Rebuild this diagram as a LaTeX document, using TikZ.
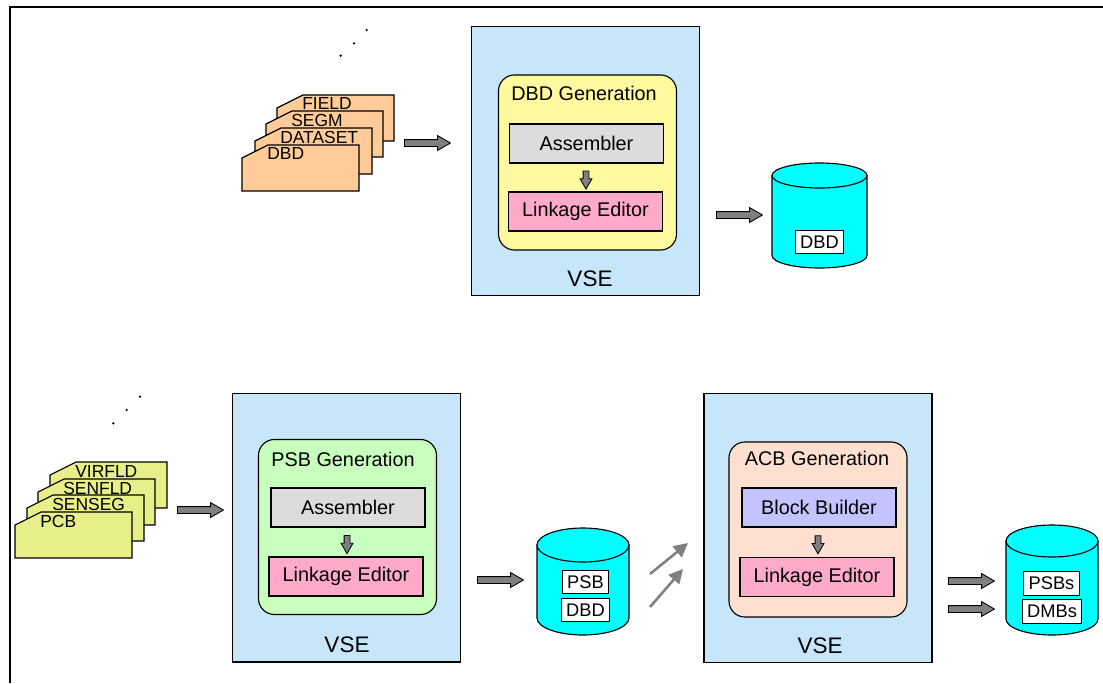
\documentclass[tikz,border=0pt]{standalone}
\usepackage{fontspec}
\setmainfont{Liberation Sans}
\usepackage{xcolor}
\usetikzlibrary{shapes.arrows, arrows.meta}

\definecolor{vseblue}{RGB}{200,230,250}
\definecolor{dbdyellow}{RGB}{255,250,160}
\definecolor{psbgreen}{RGB}{200,255,190}
\definecolor{acbpeach}{RGB}{255,224,208}
\definecolor{asmgray}{RGB}{220,220,220}
\definecolor{lnkpink}{RGB}{255,170,200}
\definecolor{bldlavender}{RGB}{195,195,255}
\definecolor{diskcyan}{RGB}{0,255,255}
\definecolor{cardorange}{RGB}{255,204,153}
\definecolor{cardyellow}{RGB}{232,238,136}
\definecolor{arrowgray}{RGB}{128,128,128}

\begin{document}
\begin{tikzpicture}[
    x=0.025cm, y=-0.025cm,
    vse box/.style = {draw, line width=0.8pt, fill=vseblue, minimum width=5.7cm, minimum height=6.72cm},
    vse label/.style = {font=\fontsize{16}{18}\selectfont},
    gen box/.style = {draw, line width=0.8pt, rounded corners=0.4cm, minimum width=4.45cm, minimum height=4.375cm},
    gen title/.style = {font=\fontsize{14.1}{16}\selectfont},
    tool box/.style = {draw, line width=0.8pt, minimum width=3.85cm, minimum height=0.975cm, font=\fontsize{14.1}{16}\selectfont},
    card/.style = {draw, line width=0.8pt},
    card label/.style = {inner sep=0pt, font=\fontsize{12.4}{14}\selectfont},
    disk/.style = {draw, line width=0.8pt, fill=diskcyan},
    disk label/.style = {draw, line width=0.8pt, fill=white, inner xsep=3.5pt, minimum height=0.58cm, font=\fontsize{13}{15}\selectfont},
    flow arrow/.style = {single arrow, draw, line width=0.6pt, fill=arrowgray, inner xsep=0pt, inner ysep=0.075cm, minimum height=1.15cm, single arrow head extend=0.1cm, single arrow tip angle=60},
    down arrow/.style = {flow arrow, rotate=-90, inner ysep=0.0625cm, minimum height=0.45cm, single arrow head extend=0.075cm},
    feed/.style = {draw=arrowgray, line width=1.8pt, -{Triangle[length=10pt, width=10pt]}}
]

\useasboundingbox (0,0) rectangle (1103,683);

% Marco (solo arriba e izquierda)
\draw[line width=1pt] (10,683) -- (10,7) -- (1103,7);

% --- FUNCIONES ---
% Tarjeta de control: \drawcard{x}{y}{color}{nombre}{texto}
\def\drawcard#1#2#3#4#5{
    \filldraw[card, fill=#3] (#1, #2+13) -- (#1+26, #2) -- (#1+117, #2) -- (#1+117, #2+46) -- (#1, #2+46) -- cycle;
    \node[card label, anchor=west] (#4) at (#1+25, #2+9) {#5};
}

% Disco: \drawdisk{centro x}{radio x}{y arriba}{y abajo}{radio y}
\def\drawdisk#1#2#3#4#5{
    \filldraw[disk] (#1-#2, #3) -- (#1-#2, #4) arc[start angle=180, end angle=0, x radius=#2, y radius=#5] -- (#1+#2, #3) -- cycle;
    \filldraw[disk] (#1, #3) ellipse[x radius=#2, y radius=#5];
}

% --- DBD GENERATION ---
\fill (340.7,55.7) circle (0.9pt);
\fill (354,43.3) circle (0.9pt);
\fill (366.7,30) circle (0.9pt);

\drawcard{277}{95}{cardorange}{field}{FIELD}
\drawcard{266}{111}{cardorange}{segm}{SEGM}
\drawcard{255}{128}{cardorange}{dataset}{DATASET}
\drawcard{242}{145}{cardorange}{dbdcard}{DBD}

\node[flow arrow, anchor=tail] (dbdin) at (404,143) {};

\node[vse box] (dbdvse) at (585.5,161) {};
\node[gen box, fill=dbdyellow] (dbdgen) at (587.5,162.5) {};
\node[gen title] (dbdtitle) at (584,93) {DBD Generation};
\node[tool box, fill=asmgray] (dbdasm) at (586.5,143.5) {Assembler};
\node[tool box, fill=lnkpink] (dbdlnk) at (585.5,211.5) {Linkage Editor};
\path (dbdasm.south) -- node[down arrow] (dbdstep) {} (dbdlnk.north);
\node[vse label] (dbdvselbl) at (590,279) {VSE};

\node[flow arrow, anchor=tail] (dbdout) at (716,215) {};

\drawdisk{819.5}{47.5}{175.5}{255.5}{12.5}
\node[disk label] (dbdlib) at (819.5,242) {DBD};

% --- PSB GENERATION ---
\fill (113.3,423.3) circle (0.9pt);
\fill (126.7,410) circle (0.9pt);
\fill (140,396.7) circle (0.9pt);

\drawcard{50}{462}{cardyellow}{virfld}{VIRFLD}
\drawcard{38}{479}{cardyellow}{senfld}{SENFLD}
\drawcard{27}{495}{cardyellow}{senseg}{SENSEG}
\drawcard{15}{512}{cardyellow}{pcb}{PCB}

\node[flow arrow, anchor=tail] (psbin) at (177,510) {};

\node[vse box] (psbvse) at (346.5,527.5) {};
\node[gen box, fill=psbgreen] (psbgen) at (347.5,527) {};
\node[gen title] (psbtitle) at (343,459) {PSB Generation};
\node[tool box, fill=asmgray] (psbasm) at (348,507.5) {Assembler};
\node[tool box, fill=lnkpink] (psblnk) at (346,576.5) {Linkage Editor};
\path (psbasm.south) -- node[down arrow] (psbstep) {} (psblnk.north);
\node[vse label] (psbvselbl) at (347,645) {VSE};

\node[flow arrow, anchor=tail] (psbout) at (477,580) {};

\drawdisk{583}{46}{545}{618}{17}
\node[disk label] (psblib) at (585.5,582) {PSB};
\node[disk label] (psbdbd) at (585.5,610) {DBD};

% --- ACB GENERATION ---
\coordinate (up1a) at (650,574);
\coordinate (up1b) at (688,543);
\coordinate (up2a) at (650,607);
\coordinate (up2b) at (683,569);
\draw[feed] (up1a) -- (up1b);
\draw[feed] (up2a) -- (up2b);

\node[vse box] (acbvse) at (818,528) {};
\node[gen box, fill=acbpeach] (acbgen) at (818,529.5) {};
\node[gen title] (acbtitle) at (817,458) {ACB Generation};
\node[tool box, fill=bldlavender] (acbbld) at (819,507.5) {Block Builder};
\node[tool box, fill=lnkpink] (acblnk) at (817,577) {Linkage Editor};
\path (acbbld.south) -- node[down arrow] (acbstep) {} (acblnk.north);
\node[vse label] (acbvselbl) at (820,646) {VSE};

\node[flow arrow, anchor=tail] (acbout1) at (948,581) {};
\node[flow arrow, anchor=tail] (acbout2) at (948,609) {};

\drawdisk{1052}{46}{541}{619}{16}
\node[disk label] (acblib1) at (1051.5,583.5) {PSBs};
\node[disk label] (acblib2) at (1052,611.5) {DMBs};

\end{tikzpicture}
\end{document}
